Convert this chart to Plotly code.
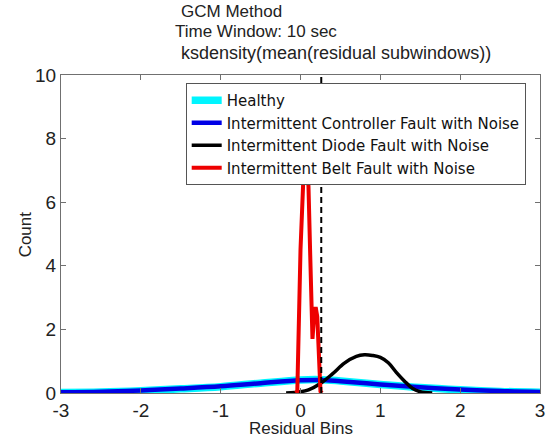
import plotly.graph_objects as go

# ---- data ----
x_wide = [-3, -2.5, -2, -1.5, -1, -0.5, 0, 0.25, 0.5, 1, 1.5, 2, 2.5, 3]
healthy = [0.015, 0.03, 0.07, 0.13, 0.2, 0.31, 0.41, 0.42, 0.38, 0.27, 0.17, 0.10, 0.05, 0.025]
controller = [0.02, 0.04, 0.08, 0.14, 0.21, 0.31, 0.40, 0.41, 0.37, 0.27, 0.18, 0.11, 0.06, 0.03]

x_diode = [-0.18, 0.0, 0.1, 0.25, 0.4, 0.55, 0.7, 0.8, 0.9, 1.0, 1.1, 1.2, 1.3, 1.4, 1.5, 1.65]
diode = [0.0, 0.04, 0.1, 0.3, 0.6, 0.94, 1.15, 1.2, 1.18, 1.12, 0.95, 0.65, 0.38, 0.15, 0.04, 0.0]

x_belt = [-0.06, -0.04, 0.0, 0.04, 0.07, 0.10, 0.12, 0.15, 0.17, 0.19, 0.21, 0.23, 0.25, 0.27]
belt = [0.0, 0.05, 4.5, 7.0, 7.4, 6.5, 4.5, 1.7, 2.4, 2.7, 2.4, 1.2, 0.05, 0.0]

threshold_x = [0.26, 0.26]
threshold_y = [0, 10]

x_ticks = [-3, -2, -1, 0, 1, 2, 3]
y_ticks = [0, 2, 4, 6, 8, 10]

title_lines = ["GCM Method", "Time Window: 10 sec", "ksdensity(mean(residual subwindows))"]

FONT = "Arial, 'Liberation Sans', sans-serif"
LEG_FONT = "'DejaVu Sans', Arial, sans-serif"

fig = go.Figure()
fig.add_trace(go.Scatter(x=x_wide, y=healthy, mode="lines", name="Healthy",
                         line=dict(color="#00F5FF", width=7.5, shape="spline")))
fig.add_trace(go.Scatter(x=x_wide, y=controller, mode="lines",
                         name="Intermittent Controller Fault with Noise",
                         line=dict(color="#0000E6", width=4.5, shape="spline")))
fig.add_trace(go.Scatter(x=x_diode, y=diode, mode="lines",
                         name="Intermittent Diode Fault with Noise",
                         line=dict(color="black", width=3.5, shape="spline")))
fig.add_trace(go.Scatter(x=x_belt, y=belt, mode="lines",
                         name="Intermittent Belt Fault with Noise",
                         line=dict(color="#EE0000", width=4)))
fig.add_trace(go.Scatter(x=threshold_x, y=threshold_y, mode="lines", showlegend=False,
                         line=dict(color="black", width=2, dash="6px,4px")))

L, R, T, B = 61, 12, 75, 45
W, H = 557, 438
pw, ph = W - L - R, H - T - B

def px2x(px):
    return (px - L) / pw

def py2y(py):
    return (H - B - py) / ph

annotations = [
    dict(text=title_lines[0], x=px2x(233), y=py2y(12), font=dict(size=17)),
    dict(text=title_lines[1], x=px2x(258), y=py2y(32), font=dict(size=17)),
    dict(text=title_lines[2], x=px2x(339), y=py2y(53), font=dict(size=18)),
    dict(text="Residual Bins", x=0.5, y=py2y(428), font=dict(size=17)),
    dict(text="Count", x=px2x(25), y=0.5, textangle=-90, font=dict(size=17)),
]
for a in annotations:
    a.update(xref="paper", yref="paper", showarrow=False, xanchor="center", yanchor="middle")
    a["font"].update(family=FONT, color="#222")

axis_common = dict(showgrid=False, zeroline=False, showline=True, linecolor="#707070",
                   linewidth=1, mirror="ticks", ticks="inside", ticklen=5, tickcolor="#707070",
                   tickfont=dict(family=FONT, size=19, color="#222"))

fig.update_layout(
    width=W, height=H, margin=dict(l=L, r=R, t=T, b=B),
    paper_bgcolor="white", plot_bgcolor="white",
    xaxis=dict(range=[-3, 3], tickvals=x_ticks, ticktext=[str(v) for v in x_ticks], **axis_common),
    yaxis=dict(range=[0, 10], tickvals=y_ticks, ticktext=[str(v) for v in y_ticks], **axis_common),
    legend=dict(x=px2x(187), y=py2y(83), xanchor="left", yanchor="top",
                bgcolor="white", bordercolor="#555", borderwidth=1,
                font=dict(family=LEG_FONT, size=15, color="#111"), itemwidth=30,
                tracegroupgap=0),
    annotations=annotations,
    showlegend=True,
)

fig.write_html("out.html")
